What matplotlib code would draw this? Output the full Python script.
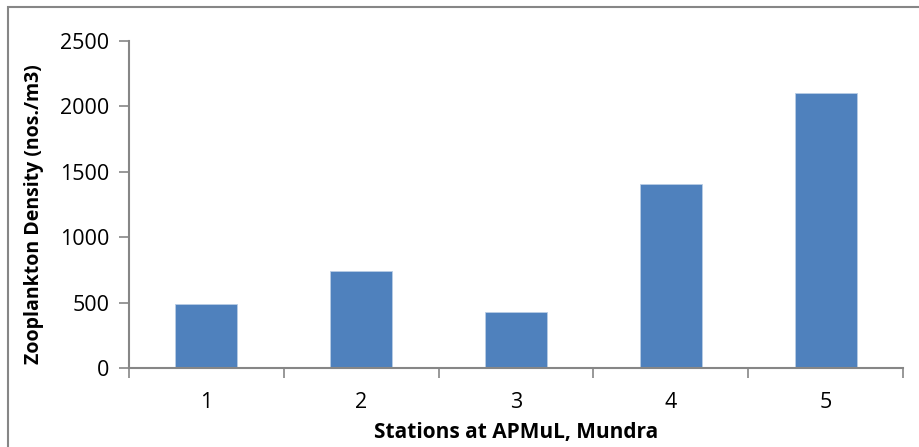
import matplotlib
matplotlib.use('Agg')
from matplotlib import pyplot as plt
from matplotlib.patches import Rectangle

stations = ['1', '2', '3', '4', '5']
density = [490, 745, 425, 1410, 2100]

plt.rcParams['font.family'] = ['Open Sans', 'DejaVu Sans']

fig = plt.figure(figsize=(9.2, 4.47), dpi=100)
ax = fig.add_axes([129 / 920, 1 - 368 / 447, (903 - 129) / 920, (368 - 41) / 447])

pos = list(range(len(stations)))
ax.bar(pos, density, width=0.4, color='#4F81BD', edgecolor='#B9CDE5', linewidth=0.6)

ax.set_xlim(-0.5, len(stations) - 0.5)
ax.set_ylim(0, 2500)
ax.set_yticks([0, 500, 1000, 1500, 2000, 2500])
ax.set_xticks(pos)
ax.set_xticklabels(stations)
# category separator ticks like excel
ax.set_xticks([p - 0.5 for p in range(len(stations) + 1)], minor=True)
ax.tick_params(axis='x', which='major', length=0, labelsize=15.5, pad=17)
ax.tick_params(axis='x', which='minor', length=7, width=1.2, color='#868686')
ax.tick_params(axis='y', length=7, width=1.2, color='#868686', labelsize=15.5, pad=7)

for s in ['top', 'right']:
    ax.spines[s].set_visible(False)
for s in ['left', 'bottom']:
    ax.spines[s].set_color('#868686')
    ax.spines[s].set_linewidth(1.5)

ax.set_xlabel('Stations at APMuL, Mundra', fontsize=15, fontweight='bold', labelpad=7)
ax.set_ylabel('Zooplankton Density (nos./m3)', fontsize=14, fontweight='bold', labelpad=12)
ax.yaxis.label.set_y(0.47)

# chart frame (runs off the right and bottom edges)
fig.add_artist(Rectangle((8 / 920, -0.2), 1.5, 1.2 - 7 / 447, transform=fig.transFigure,
                         fill=False, edgecolor='#868686', linewidth=1.5))

fig.savefig('out.png', dpi=100)
